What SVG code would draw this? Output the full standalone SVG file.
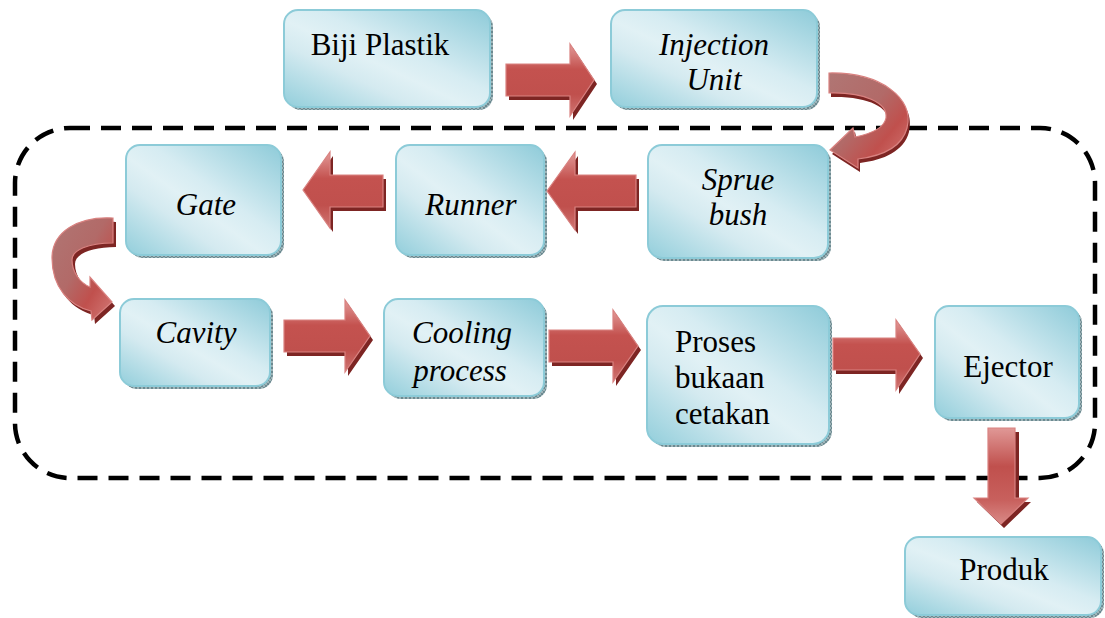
<svg xmlns="http://www.w3.org/2000/svg" width="1105" height="618" viewBox="0 0 1105 618">
  <defs>
    <style>
      .box { fill: url(#boxFill); stroke: #8ccbd8; stroke-width: 2; }
      .shadow { fill: url(#hatch); }
      .lbl { font-family: "Liberation Serif", "Times New Roman", serif; font-size: 31px; fill: #000; text-anchor: middle; }
      .it { font-style: italic; }
      .arrow { stroke: #d98280; stroke-width: 1.2; stroke-linejoin: miter; }
      .ashadow { fill: #7d2523; }
      .frame { fill: none; stroke: #000; stroke-width: 4.5; stroke-dasharray: 20 11; }
    </style>
    <linearGradient id="boxFill" x1="1" y1="0" x2="0" y2="1">
      <stop offset="0" stop-color="#8ecbd9"/>
      <stop offset="0.42" stop-color="#d6ecf2"/>
      <stop offset="0.55" stop-color="#e1f1f5"/>
      <stop offset="0.68" stop-color="#d4eaf0"/>
      <stop offset="1" stop-color="#92cedb"/>
    </linearGradient>
    <pattern id="hatch" width="4" height="4" patternUnits="userSpaceOnUse">
      <rect width="4" height="4" fill="#9fb4b8"/>
      <path d="M0,0 L4,4 M4,0 L0,4" stroke="#5f7f86" stroke-width="0.8"/>
    </pattern>
    <linearGradient id="arrowH" x1="0" y1="0" x2="0" y2="1">
      <stop offset="0" stop-color="#e29a98"/>
      <stop offset="0.35" stop-color="#c4524f"/>
      <stop offset="0.7" stop-color="#c0504d"/>
      <stop offset="1" stop-color="#d07572"/>
    </linearGradient>
    <linearGradient id="arrowV" x1="0" y1="0" x2="0" y2="1">
      <stop offset="0" stop-color="#e09896"/>
      <stop offset="0.4" stop-color="#c0504d"/>
      <stop offset="0.75" stop-color="#c8605d"/>
      <stop offset="1" stop-color="#d98a87"/>
    </linearGradient>
    <linearGradient id="arrowC" x1="0" y1="0" x2="1" y2="1">
      <stop offset="0" stop-color="#b07674"/>
      <stop offset="0.45" stop-color="#b26a68"/>
      <stop offset="0.7" stop-color="#c0504d"/>
      <stop offset="1" stop-color="#d47c79"/>
    </linearGradient>
  </defs>

  <rect width="1105" height="618" fill="#ffffff"/>

  <!-- dashed enclosure around the mould stages -->
  <rect class="frame" x="15" y="128" width="1080" height="350" rx="55" ry="55"/>

  <!-- process steps -->
  <g id="biji-plastik">
    <rect class="shadow" x="287" y="13" width="206" height="97" rx="14"/>
    <rect class="box" x="284" y="10" width="206" height="97" rx="14"/>
    <text class="lbl" x="380" y="55">Biji Plastik</text>
  </g>
  <g id="injection-unit">
    <rect class="shadow" x="614" y="13" width="206" height="97" rx="14"/>
    <rect class="box" x="611" y="10" width="206" height="97" rx="14"/>
    <text class="lbl it" x="714" y="55">Injection</text>
    <text class="lbl it" x="714" y="90">Unit</text>
  </g>
  <g id="sprue-bush">
    <rect class="shadow" x="651" y="148" width="180" height="113" rx="14"/>
    <rect class="box" x="648" y="145" width="180" height="113" rx="14"/>
    <text class="lbl it" x="738" y="190">Sprue</text>
    <text class="lbl it" x="738" y="225">bush</text>
  </g>
  <g id="runner">
    <rect class="shadow" x="399" y="148" width="148" height="110" rx="14"/>
    <rect class="box" x="396" y="145" width="148" height="110" rx="14"/>
    <text class="lbl it" x="471" y="215">Runner</text>
  </g>
  <g id="gate">
    <rect class="shadow" x="129" y="148" width="155" height="110" rx="14"/>
    <rect class="box" x="126" y="145" width="155" height="110" rx="14"/>
    <text class="lbl it" x="206" y="215">Gate</text>
  </g>
  <g id="cavity">
    <rect class="shadow" x="123" y="302" width="150" height="87" rx="14"/>
    <rect class="box" x="120" y="299" width="150" height="87" rx="14"/>
    <text class="lbl it" x="196" y="343">Cavity</text>
  </g>
  <g id="cooling-process">
    <rect class="shadow" x="387" y="302" width="160" height="97" rx="14"/>
    <rect class="box" x="384" y="299" width="160" height="97" rx="14"/>
    <text class="lbl it" x="462" y="343">Cooling</text>
    <text class="lbl it" x="460" y="381">process</text>
  </g>
  <g id="proses-bukaan-cetakan">
    <rect class="shadow" x="650" y="309" width="182" height="138" rx="16"/>
    <rect class="box" x="647" y="306" width="182" height="138" rx="16"/>
    <text class="lbl" x="675" y="352" text-anchor="start" style="text-anchor:start">Proses</text>
    <text class="lbl" x="675" y="388" style="text-anchor:start">bukaan</text>
    <text class="lbl" x="675" y="424" style="text-anchor:start">cetakan</text>
  </g>
  <g id="ejector">
    <rect class="shadow" x="938" y="309" width="144" height="112" rx="14"/>
    <rect class="box" x="935" y="306" width="144" height="112" rx="14"/>
    <text class="lbl" x="1008" y="377">Ejector</text>
  </g>
  <g id="produk">
    <rect class="shadow" x="908" y="540" width="196" height="78" rx="14"/>
    <rect class="box" x="905" y="537" width="196" height="78" rx="14"/>
    <text class="lbl" x="1004" y="580">Produk</text>
  </g>

  <!-- flow arrows -->
  <g id="connectors">
    <!-- Biji Plastik -> Injection Unit -->
    <path class="ashadow" d="M509,68 H573 V48 L597,84 L573,120 V100 H509 Z"/>
    <path class="arrow" fill="url(#arrowH)" d="M506,64 H570 V44 L594,80 L570,116 V96 H506 Z"/>

    <!-- Injection Unit -> Sprue bush (curved) -->
    <path class="ashadow" d="M831,77 C882,76 917,102 909,132 C904,151 884,160 860,163 L860,172 L832,154 L855,132 L857,141 C872,138 886,132 888,122 C890,107 867,96 831,97 Z"/>
    <path class="arrow" fill="url(#arrowC)" d="M829,73 C880,72 915,98 907,128 C902,147 882,156 858,159 L858,168 L830,150 L853,128 L855,137 C870,134 884,128 886,118 C888,103 865,92 829,93 Z"/>

    <!-- Sprue bush -> Runner -->
    <path class="ashadow" d="M639,179 H578 V156 L550,195 L578,234 V211 H639 Z"/>
    <path class="arrow" fill="url(#arrowH)" d="M636,175 H575 V152 L547,191 L575,230 V207 H636 Z"/>

    <!-- Runner -> Gate -->
    <path class="ashadow" d="M386,179 H333 V156 L306,194 L333,232 V211 H386 Z"/>
    <path class="arrow" fill="url(#arrowH)" d="M383,175 H330 V152 L303,190 L330,228 V207 H383 Z"/>

    <!-- Gate -> Cavity (curved) -->
    <path class="ashadow" d="M116,222 C81,220 55,236 55,262 C55,292 73,310 94,315 L95,324 L115,306 L93,281 L93,291 C83,287 75,276 75,264 C75,254 91,247 116,247 Z"/>
    <path class="arrow" fill="url(#arrowC)" d="M113,218 C78,216 52,232 52,258 C52,288 70,306 91,311 L92,320 L112,302 L90,277 L90,287 C80,283 72,272 72,260 C72,250 88,243 113,243 Z"/>

    <!-- Cavity -> Cooling process -->
    <path class="ashadow" d="M287,324 H348 V304 L373,340 L348,376 V356 H287 Z"/>
    <path class="arrow" fill="url(#arrowH)" d="M284,320 H345 V300 L370,336 L345,372 V352 H284 Z"/>

    <!-- Cooling process -> Proses bukaan cetakan -->
    <path class="ashadow" d="M552,334 H616 V314 L641,350 L616,386 V366 H552 Z"/>
    <path class="arrow" fill="url(#arrowH)" d="M549,330 H613 V310 L638,346 L613,382 V362 H549 Z"/>

    <!-- Proses bukaan cetakan -> Ejector -->
    <path class="ashadow" d="M836,342 H899 V324 L923,358 L899,394 V374 H836 Z"/>
    <path class="arrow" fill="url(#arrowH)" d="M833,338 H896 V320 L920,354 L896,390 V370 H833 Z"/>

    <!-- Ejector -> Produk -->
    <path class="ashadow" d="M991,432 H1019 V502 H1031 L1004,528 L977,502 H991 Z"/>
    <path class="arrow" fill="url(#arrowV)" d="M988,428 H1015 V498 H1028 L1001,524 L974,498 H988 Z"/>
  </g>
</svg>
